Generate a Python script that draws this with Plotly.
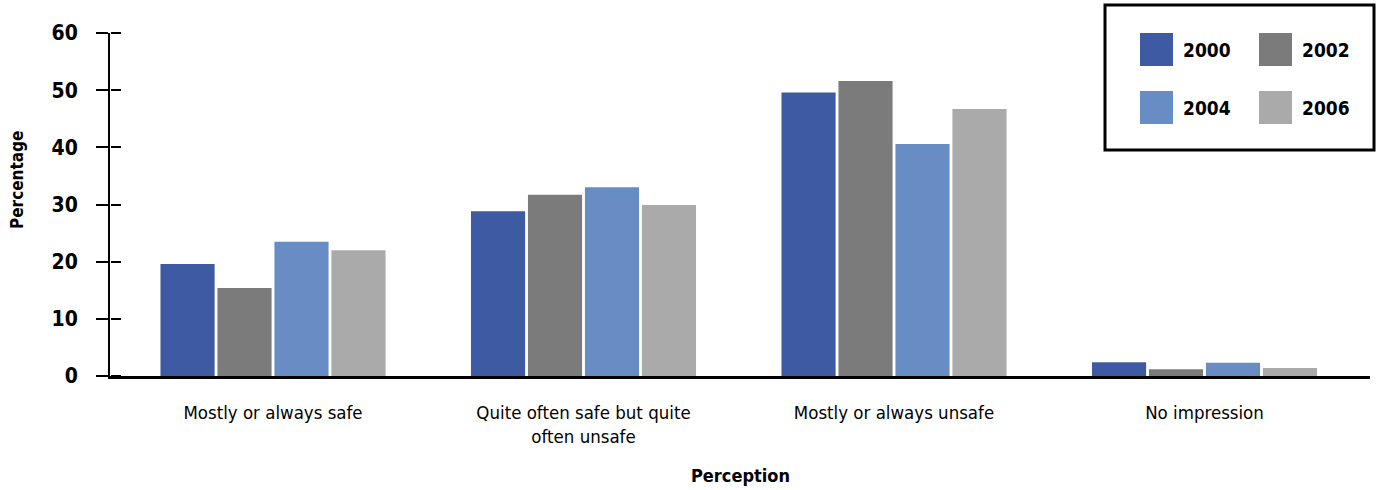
import plotly.graph_objects as go

categories = ["Mostly or always safe", "Quite often safe but quite<br>often unsafe",
              "Mostly or always unsafe", "No impression"]
years = ["2000", "2002", "2004", "2006"]
values_2000 = [19.6, 28.8, 49.6, 2.4]
values_2002 = [15.4, 31.7, 51.6, 1.2]
values_2004 = [23.5, 33.0, 40.6, 2.3]
values_2006 = [22.0, 29.9, 46.7, 1.4]
series_values = [values_2000, values_2002, values_2004, values_2006]
colors = ["#3D5AA3", "#7B7B7B", "#688CC4", "#AAAAAA"]
y_ticks = [0, 10, 20, 30, 40, 50, 60]

FONT = "Liberation Sans Narrow, DejaVu Sans Condensed, Arial Narrow, sans-serif"

fig = go.Figure()
for name, vals, col in zip(years, series_values, colors):
    fig.add_trace(go.Bar(x=categories, y=vals, name=name, marker_color=col,
                         marker_line_width=0))
# transparent helper trace so the overlaid tick axis (ticks crossing the y axis) is drawn
fig.add_trace(go.Scatter(x=categories, y=values_2000, yaxis="y2", mode="markers",
                         marker=dict(opacity=0), showlegend=False, hoverinfo="skip"))

fig.update_layout(
    width=1378, height=490,
    margin=dict(l=110, r=8, t=33, b=114),
    paper_bgcolor="white", plot_bgcolor="white",
    barmode="group", bargap=0.266, bargroupgap=0.05,
    showlegend=False,
    font=dict(family=FONT, color="black"),
    xaxis=dict(type="category", range=[-0.525, 3.533], showline=True,
               linecolor="black", linewidth=2.5, ticks="", showgrid=False,
               tickfont=dict(size=18.5, family=FONT), ticklabelstandoff=18),
    yaxis=dict(range=[0, 60], tickvals=y_ticks, showgrid=False, zeroline=False,
               showline=True, linecolor="black", linewidth=2,
               ticks="outside", ticklen=12, tickwidth=2, tickcolor="black",
               tickfont=dict(size=21, family=FONT, weight="bold"),
               ticklabelstandoff=14),
    yaxis2=dict(range=[0, 60], overlaying="y", side="right", anchor="free",
                position=0, tickvals=y_ticks,
                ticks="outside", ticklen=10, tickwidth=2, tickcolor="black",
                showticklabels=False, showgrid=False, zeroline=False, showline=False),
)

# axis titles
fig.add_annotation(text="<b>Percentage</b>", xref="paper", yref="paper",
                   x=(17 - 110) / 1260, y=(376 - 180) / 343, textangle=-90,
                   xanchor="center", yanchor="middle",
                   showarrow=False, font=dict(size=17, family=FONT))
fig.add_annotation(text="<b>Perception</b>", xref="paper", yref="paper",
                   x=0.5, y=(376 - 475) / 343, xanchor="center", yanchor="middle",
                   showarrow=False, font=dict(size=18, family=FONT))

# legend box (drawn manually for large swatches)
def px_x(p):
    return (p - 110) / 1260

def px_y(p):
    return (376 - p) / 343

fig.add_shape(type="rect", xref="paper", yref="paper",
              x0=px_x(1105), x1=px_x(1374), y0=px_y(150), y1=px_y(5),
              line=dict(color="black", width=3), fillcolor="white", layer="above")
for i, (name, col) in enumerate(zip(years, colors)):
    row, colno = divmod(i, 2)
    sx = 1140 + colno * 119
    sy = 33 + row * 58
    fig.add_shape(type="rect", xref="paper", yref="paper",
                  x0=px_x(sx), x1=px_x(sx + 33), y0=px_y(sy + 33), y1=px_y(sy),
                  line=dict(width=0), fillcolor=col, layer="above")
    fig.add_annotation(text=name, xref="paper", yref="paper",
                       x=px_x(sx + 41), y=px_y(sy + 17), xanchor="left",
                       yanchor="middle", showarrow=False,
                       font=dict(size=19, family=FONT, weight="bold"))

fig.write_html("out.html")
